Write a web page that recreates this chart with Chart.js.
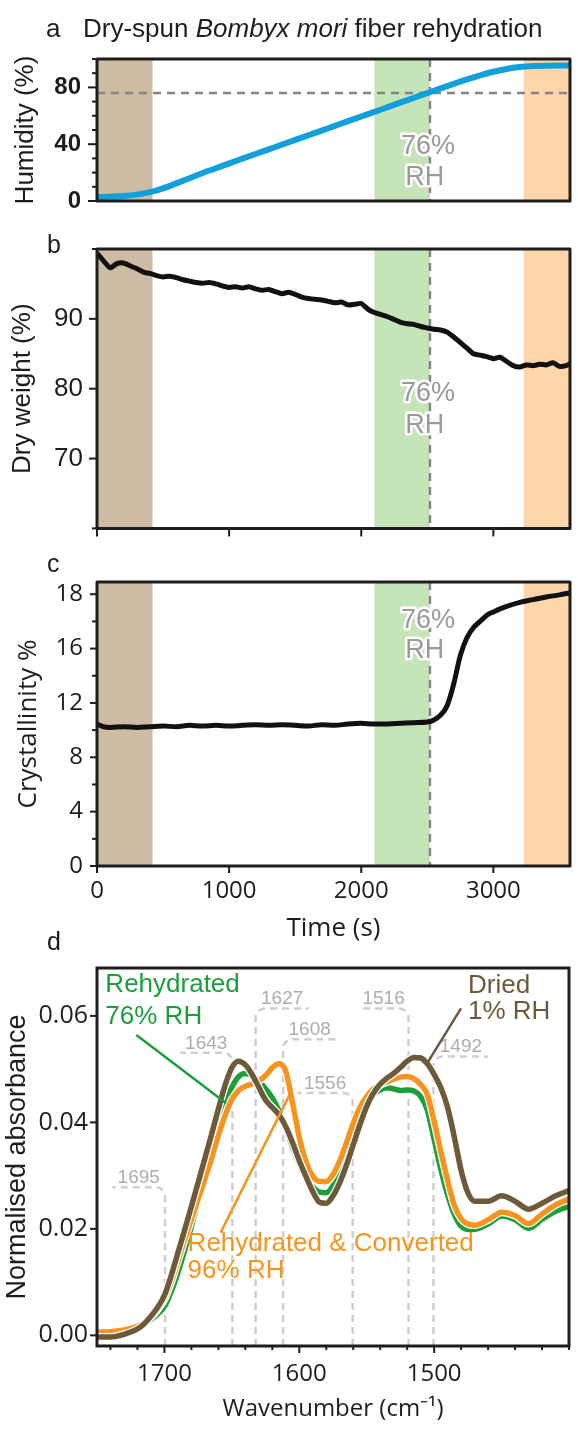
<!DOCTYPE html>
<html>
<head>
<meta charset="utf-8">
<script src="https://cdn.jsdelivr.net/npm/chart.js@4/dist/chart.umd.min.js"></script>
<style>
  html, body { margin: 0; padding: 0; background: #fff; }
  #wrap { position: relative; width: 578px; height: 1434px; }
  #wrap canvas { position: absolute; left: 0; }
</style>
</head>
<body>
<div id="wrap">
  <canvas id="panelA" width="578" height="230" style="top:0px"></canvas>
  <canvas id="panelB" width="578" height="345" style="top:205px"></canvas>
  <canvas id="panelC" width="578" height="395" style="top:550px"></canvas>
  <canvas id="panelD" width="578" height="519" style="top:915px"></canvas>
</div>
<script>
"use strict";

// ---- panels a-c : time series (s) ----
const humTime = [0, 100, 200, 300, 400, 500, 600, 700, 800, 900, 1000, 1100, 1200, 1300, 1400, 1500, 1600, 1700, 1800, 1900, 2000, 2100, 2200, 2300, 2400, 2500, 2600, 2700, 2800, 2900, 3000, 3100, 3200, 3300, 3400, 3500, 3580];
const humValues = [2.8, 3.0, 3.5, 4.5, 6.2, 8.9, 12.4, 16.0, 19.7, 23.1, 26.5, 29.8, 33.1, 36.4, 39.7, 43.0, 46.3, 49.6, 52.9, 56.2, 59.5, 62.8, 66.1, 69.4, 72.7, 76.0, 79.3, 82.5, 85.6, 88.5, 91.0, 93.0, 94.3, 95.0, 95.3, 95.4, 95.4];

const weightTime = [0, 50, 100, 150, 200, 250, 300, 350, 400, 450, 500, 550, 600, 650, 700, 750, 800, 850, 900, 950, 1000, 1050, 1100, 1150, 1200, 1250, 1300, 1350, 1400, 1450, 1500, 1550, 1600, 1650, 1700, 1750, 1800, 1850, 1900, 1950, 2000, 2050, 2100, 2150, 2200, 2250, 2300, 2350, 2400, 2450, 2500, 2550, 2600, 2650, 2700, 2750, 2800, 2850, 2900, 2950, 3000, 3050, 3100, 3150, 3200, 3250, 3300, 3350, 3400, 3450, 3500, 3550, 3580];
const weightValues = [99.4, 98.3, 97.3, 97.9, 98.0, 97.6, 97.2, 96.7, 96.5, 96.2, 96.0, 96.1, 95.9, 95.6, 95.4, 95.2, 95.1, 95.2, 95.0, 94.7, 94.5, 94.6, 94.4, 94.6, 94.3, 94.1, 94.2, 93.9, 93.6, 93.8, 93.5, 93.1, 92.9, 92.8, 92.7, 92.5, 92.3, 92.4, 92.0, 92.1, 92.2, 91.4, 90.9, 90.6, 90.3, 89.9, 89.5, 89.3, 89.2, 88.9, 88.7, 88.5, 88.4, 88.1, 87.4, 86.6, 85.8, 85.0, 84.8, 84.6, 84.3, 84.5, 83.9, 83.3, 83.1, 83.4, 83.3, 83.5, 83.4, 83.7, 83.2, 83.3, 83.6];

const crystTime = [0, 50, 100, 200, 300, 400, 500, 600, 700, 800, 900, 1000, 1100, 1200, 1300, 1400, 1500, 1600, 1700, 1800, 1900, 2000, 2100, 2200, 2300, 2400, 2500, 2550, 2600, 2650, 2700, 2750, 2800, 2850, 2900, 2950, 3000, 3100, 3200, 3300, 3400, 3500, 3580];
// read against the evenly spaced ticks (top tick sits where 20 would be)
const crystValues = [10.45, 10.25, 10.2, 10.25, 10.2, 10.25, 10.3, 10.25, 10.35, 10.3, 10.35, 10.3, 10.35, 10.4, 10.35, 10.4, 10.35, 10.3, 10.4, 10.35, 10.45, 10.5, 10.45, 10.45, 10.5, 10.55, 10.6, 10.75, 11.1, 11.8, 13.4, 15.5, 16.8, 17.55, 18.0, 18.45, 18.7, 19.1, 19.4, 19.6, 19.8, 19.95, 20.1];

// shaded phases and the 76% RH mark
const phaseDry = [0, 420];
const phaseRehyd = [2100, 2520];
const phaseConv = [3230, 3580];
const rhMarkTime = 2520;
const rhMarkHumidity = 76;
const timeMax = 3580;

// tick labels
const timeTicks = [0, 1000, 2000, 3000];
const humTickLabels = [0, 40, 80];
const weightTickLabels = [70, 80, 90];
const crystTickValues = [0, 4, 8, 12, 16, 20];
const crystTickText = ["0", "4", "8", "12", "16", "18"];

// ---- panel d : spectra ----
const wavenumbers = [1750, 1740, 1730, 1720, 1715, 1710, 1705, 1700, 1695, 1690, 1685, 1680, 1675, 1670, 1665, 1660, 1655, 1650, 1645, 1640, 1635, 1630, 1625, 1620, 1615, 1610, 1605, 1600, 1595, 1590, 1585, 1580, 1575, 1570, 1565, 1560, 1555, 1550, 1545, 1540, 1535, 1530, 1525, 1520, 1515, 1510, 1505, 1500, 1495, 1490, 1485, 1480, 1475, 1470, 1460, 1450, 1440, 1430, 1420, 1410, 1400];
const driedAbs = [-0.0003, -0.0003, 0.0002, 0.0012, 0.0022, 0.0036, 0.0053, 0.0075, 0.0112, 0.0155, 0.0198, 0.0242, 0.0287, 0.0332, 0.0378, 0.0425, 0.047, 0.0503, 0.0515, 0.0508, 0.049, 0.0466, 0.0442, 0.0428, 0.0414, 0.0392, 0.0362, 0.0328, 0.0298, 0.027, 0.025, 0.0248, 0.0262, 0.0287, 0.032, 0.0358, 0.0396, 0.043, 0.0455, 0.0472, 0.0483, 0.0492, 0.0503, 0.0515, 0.0522, 0.0521, 0.051, 0.049, 0.0465, 0.0428, 0.0372, 0.031, 0.0268, 0.0252, 0.0252, 0.0262, 0.0252, 0.0237, 0.0248, 0.0262, 0.0272];
const rehydratedAbs = [0.0003, 0.0004, 0.0007, 0.0013, 0.002, 0.003, 0.004, 0.0054, 0.0082, 0.0118, 0.016, 0.0205, 0.0252, 0.03, 0.035, 0.0395, 0.0435, 0.0466, 0.0486, 0.0492, 0.0488, 0.0478, 0.0463, 0.0446, 0.0421, 0.0388, 0.0354, 0.0322, 0.0296, 0.0279, 0.0269, 0.0268, 0.0281, 0.0308, 0.0344, 0.0382, 0.0414, 0.0437, 0.0452, 0.0461, 0.0465, 0.0463, 0.046, 0.0461, 0.0459, 0.0449, 0.0423, 0.0368, 0.0312, 0.0264, 0.0227, 0.0205, 0.0199, 0.0199, 0.0209, 0.0224, 0.0217, 0.0201, 0.0218, 0.0233, 0.0242];
const convertedAbs = [0.0006, 0.0007, 0.001, 0.0017, 0.0024, 0.0034, 0.0049, 0.0068, 0.01, 0.014, 0.018, 0.0218, 0.0256, 0.0294, 0.0333, 0.0376, 0.0413, 0.0443, 0.046, 0.0468, 0.0472, 0.0478, 0.0488, 0.0503, 0.051, 0.0496, 0.0437, 0.0372, 0.0326, 0.0299, 0.0289, 0.0289, 0.0302, 0.0328, 0.0362, 0.0398, 0.0428, 0.0449, 0.0463, 0.0471, 0.0476, 0.0481, 0.0485, 0.0486, 0.0482, 0.0471, 0.0452, 0.0402, 0.0345, 0.0291, 0.0244, 0.0219, 0.0209, 0.0207, 0.0217, 0.0231, 0.0225, 0.021, 0.0228, 0.0245, 0.0256];
const wnTickLabels = [1500, 1600, 1700];
const absTickLabels = [0, 0.02, 0.04, 0.06];

// band markers: label, drop line position, bracket height, far end of bracket
const peakLabels = ["1695", "1643", "1627", "1608", "1556", "1516", "1492"];
const peakDropAt = [1699.5, 1649.6, 1632.4, 1612, 1560.4, 1519, 1500.5];
const peakBracketHeight = [0.0278, 0.0531, 0.0614, 0.0556, 0.0455, 0.0614, 0.0524];
const peakBracketEnd = [1738.6, 1688.4, 1593, 1572.6, 1601.3, 1556, 1459.8];

const SANS = "'Liberation Sans', Arial, sans-serif";
const OPEN = "'Open Sans', 'Liberation Sans', sans-serif";
const INK = "#1e1c1c";
const BROWN = "#6c5a3a";
const GREEN = "#1b9f3b";
const ORANGE = "#f7941d";
const BLUE = "#11a0db";
const PLOT_LEFT = 97;

Chart.defaults.font.family = SANS;
Chart.defaults.color = INK;

function seg(ctx, x0, y0, x1, y1) {
  ctx.beginPath();
  ctx.moveTo(x0, y0);
  ctx.lineTo(x1, y1);
  ctx.stroke();
}

const decor = {
  id: "decor",
  beforeDatasetsDraw(chart, args, o) {
    const { ctx, chartArea: a } = chart;
    const x = chart.scales.x, y = chart.scales.y;
    ctx.save();
    ctx.beginPath();
    ctx.rect(a.left, a.top, a.width, a.height);
    ctx.clip();
    (o.bands || []).forEach((b) => {
      const x0 = x.getPixelForValue(b.range[0]), x1 = x.getPixelForValue(b.range[1]);
      ctx.fillStyle = b.color;
      ctx.fillRect(Math.min(x0, x1), a.top, Math.abs(x1 - x0), a.height);
    });
    ctx.strokeStyle = "#858585";
    ctx.lineWidth = 2.5;
    ctx.setLineDash([8, 6]);
    (o.vlines || []).forEach((v) => {
      const px = x.getPixelForValue(v);
      seg(ctx, px, a.top, px, a.bottom);
    });
    (o.hlines || []).forEach((v) => {
      const py = y.getPixelForValue(v);
      seg(ctx, a.left, py, a.right, py);
    });
    if (o.peaks) {
      ctx.strokeStyle = "#cfcfcf";
      ctx.setLineDash([7, 5]);
      ctx.font = "19px " + SANS;
      ctx.fillStyle = "#adadad";
      ctx.textAlign = "center";
      ctx.textBaseline = "alphabetic";
      peakLabels.forEach((lab, i) => {
        const xv = x.getPixelForValue(peakDropAt[i]);
        const yl = y.getPixelForValue(peakBracketHeight[i]);
        const xe = x.getPixelForValue(peakBracketEnd[i]);
        ctx.beginPath();
        ctx.moveTo(xv, a.bottom);
        ctx.arcTo(xv, yl, xe, yl, 9);
        ctx.lineTo(xe, yl);
        ctx.stroke();
        ctx.fillText(lab, (xv + xe) / 2, yl - 4);
      });
    }
    ctx.restore();
  },
  afterDatasetsDraw(chart, args, o) {
    const { ctx, chartArea: a } = chart;
    const x = chart.scales.x, y = chart.scales.y;
    ctx.save();
    ctx.setLineDash([]);
    (o.leaders || []).forEach((l) => {
      ctx.strokeStyle = l.color;
      ctx.lineWidth = 2.5;
      seg(ctx, x.getPixelForValue(l.from[0]), y.getPixelForValue(l.from[1]),
        x.getPixelForValue(l.to[0]), y.getPixelForValue(l.to[1]));
    });
    (o.notes || []).forEach((n) => {
      ctx.font = n.font;
      ctx.textAlign = n.align || "center";
      ctx.textBaseline = "middle";
      const px = x.getPixelForValue(n.at[0]), py = y.getPixelForValue(n.at[1]);
      if (n.halo) {
        ctx.strokeStyle = "#fff";
        ctx.lineWidth = 5;
        ctx.lineJoin = "round";
        ctx.strokeText(n.text, px, py);
      }
      ctx.fillStyle = n.color;
      ctx.fillText(n.text, px, py);
    });
    // frame
    ctx.strokeStyle = INK;
    ctx.lineWidth = 3;
    ctx.strokeRect(a.left, a.top, a.width, a.height);
    // tick marks, minor ones shorter
    ctx.lineWidth = 2;
    y.ticks.forEach((t) => {
      const py = y.getPixelForValue(t.value);
      const len = t.label === "" ? 5 : o.yTick;
      seg(ctx, a.left - len, py, a.left, py);
    });
    if (o.xTick) {
      x.ticks.forEach((t) => {
        const px = x.getPixelForValue(t.value);
        const len = t.label === "" && o.xMinor ? 4 : o.xTick;
        seg(ctx, px, a.bottom, px, a.bottom + len);
      });
    }
    ctx.restore();
  },
  afterDraw(chart, args, o) {
    const ctx = chart.ctx;
    ctx.save();
    ctx.fillStyle = INK;
    ctx.textAlign = "left";
    ctx.textBaseline = "alphabetic";
    (o.heading || []).forEach((h) => {
      let px = h.x;
      h.runs.forEach((r) => {
        ctx.font = (r.italic ? "italic " : "") + h.size + "px " + SANS;
        ctx.fillText(r.text, px, h.y);
        px += ctx.measureText(r.text).width;
      });
    });
    ctx.restore();
  }
};

function yAxis(cfg) {
  return {
    min: cfg.min,
    max: cfg.max,
    afterFit: (s) => { s.width = PLOT_LEFT; },
    border: { display: false },
    grid: { display: true, drawOnChartArea: false, drawTicks: true, tickLength: cfg.tickLen, tickColor: "rgba(0,0,0,0)" },
    ticks: { stepSize: cfg.step, autoSkip: false, includeBounds: false, padding: cfg.tickPad, color: INK, font: cfg.tickFont, callback: cfg.label },
    title: { display: true, text: cfg.title, color: INK, font: cfg.titleFont, padding: { top: cfg.titlePad, bottom: 0 } }
  };
}

function timeAxis(height, showLabels) {
  return {
    type: "linear", min: 0, max: timeMax,
    afterBuildTicks: (s) => { s.ticks = timeTicks.map((v) => ({ value: v })); },
    afterFit: (s) => { s.height = height; },
    border: { display: false },
    grid: { drawOnChartArea: false, tickLength: 7, tickColor: "rgba(0,0,0,0)" },
    ticks: { display: showLabels, autoSkip: false, padding: 4, color: INK, font: { family: OPEN, size: 24 }, callback: (v) => String(v) }
  };
}

function timeSeries(times, values) {
  return times.map((t, i) => ({ x: t, y: values[i] }));
}

function baseOptions(padding) {
  return {
    responsive: false,
    animation: false,
    events: [],
    layout: { padding: padding },
    plugins: { legend: { display: false }, tooltip: { enabled: false } }
  };
}

function rhNotes(yTop, yBottom) {
  return [
    { text: "76%", at: [rhMarkTime - 15, yTop], font: "27px " + SANS, color: "#999", halo: true },
    { text: "RH", at: [rhMarkTime - 40, yBottom], font: "27px " + SANS, color: "#999", halo: true }
  ];
}

const timeBands = [
  { range: phaseDry, color: "#cdbba3" },
  { range: phaseRehyd, color: "#c5e4b8" },
  { range: phaseConv, color: "#fed6aa" }
];

// a: humidity
const optA = baseOptions({ top: 59, right: 8, bottom: 29, left: 0 });
optA.plugins.decor = {
  bands: timeBands, vlines: [rhMarkTime], hlines: [rhMarkHumidity], yTick: 9,
  notes: rhNotes(38.2, 16.5),
  heading: [
    { x: 46, y: 37, size: 26, runs: [{ text: "a" }] },
    { x: 83, y: 37, size: 26, runs: [{ text: "Dry-spun " }, { text: "Bombyx mori", italic: true }, { text: " fiber rehydration" }] }
  ]
};
optA.scales = {
  x: { type: "linear", min: 0, max: timeMax, display: false },
  y: yAxis({ min: 0, max: 100, step: 10, tickLen: 9, tickPad: 7,
    tickFont: { family: SANS, size: 24, weight: "bold" },
    label: (v) => humTickLabels.includes(v) ? String(v) : "",
    title: "Humidity (%)", titleFont: { family: SANS, size: 26 }, titlePad: 10 })
};
new Chart(document.getElementById("panelA"), {
  type: "line",
  data: { datasets: [{ data: timeSeries(humTime, humValues), borderColor: BLUE, borderWidth: 6, pointRadius: 0, cubicInterpolationMode: "monotone" }] },
  options: optA,
  plugins: [decor]
});

// b: dry weight
const optB = baseOptions({ top: 44, right: 8, bottom: 0, left: 0 });
optB.plugins.decor = {
  bands: timeBands, vlines: [rhMarkTime], yTick: 8, xTick: 8,
  notes: rhNotes(79.3, 74.7),
  heading: [{ x: 47, y: 48, size: 25, runs: [{ text: "b" }] }]
};
optB.scales = {
  x: timeAxis(16, false),
  y: yAxis({ min: 60, max: 100, step: 10, tickLen: 8, tickPad: 6,
    tickFont: { family: SANS, size: 26 },
    label: (v) => weightTickLabels.includes(v) ? String(v) : "",
    title: "Dry weight (%)", titleFont: { family: SANS, size: 26 }, titlePad: 7 })
};
new Chart(document.getElementById("panelB"), {
  type: "line",
  data: { datasets: [{ data: timeSeries(weightTime, weightValues), borderColor: "#111", borderWidth: 5, pointRadius: 0, tension: 0.2, borderJoinStyle: "round" }] },
  options: optB,
  plugins: [decor]
});

// c: crystallinity
const optC = baseOptions({ top: 32, right: 8, bottom: 0, left: 0 });
optC.plugins.decor = {
  bands: timeBands, vlines: [rhMarkTime], yTick: 7, xTick: 7,
  notes: rhNotes(18.05, 15.85),
  heading: [{ x: 47, y: 22, size: 25, runs: [{ text: "c" }] }]
};
optC.scales = {
  x: Object.assign(timeAxis(79, true), {
    title: { display: true, text: "Time (s)", color: INK, font: { family: OPEN, size: 26 }, padding: { top: 0, bottom: 1 } }
  }),
  y: yAxis({ min: 0, max: 20.9, step: 2, tickLen: 7, tickPad: 7,
    tickFont: { family: OPEN, size: 24 },
    label: (v) => { const i = crystTickValues.indexOf(v); return i < 0 ? "" : crystTickText[i]; },
    title: "Crystallinity %", titleFont: { family: OPEN, size: 26 }, titlePad: 13 })
};
new Chart(document.getElementById("panelC"), {
  type: "line",
  data: { datasets: [{ data: timeSeries(crystTime, crystValues), borderColor: "#111", borderWidth: 5, pointRadius: 0, cubicInterpolationMode: "monotone" }] },
  options: optC,
  plugins: [decor]
});

// d: spectra
const optD = baseOptions({ top: 53, right: 9, bottom: 0, left: 0 });
optD.plugins.decor = {
  peaks: true, yTick: 7, xTick: 7, xMinor: true,
  leaders: [
    { color: GREEN, from: [1720.8, 0.0564], to: [1654.2, 0.0436] },
    { color: BROWN, from: [1480.1, 0.0614], to: [1505.9, 0.0508] },
    { color: ORANGE, from: [1658.3, 0.0193], to: [1606.6, 0.0455] }
  ],
  notes: [
    { text: "Rehydrated", at: [1743.8, 0.0658], font: "26px " + SANS, color: GREEN, align: "left" },
    { text: "76% RH", at: [1743.8, 0.0599], font: "26px " + SANS, color: GREEN, align: "left" },
    { text: "Dried", at: [1474.9, 0.0656], font: "26px " + SANS, color: BROWN, align: "left" },
    { text: "1% RH", at: [1474.9, 0.0607], font: "26px " + SANS, color: BROWN, align: "left" },
    { text: "Rehydrated & Converted", at: [1682.8, 0.0171], font: "26px " + SANS, color: ORANGE, align: "left" },
    { text: "96% RH", at: [1682.8, 0.0121], font: "26px " + SANS, color: ORANGE, align: "left" }
  ],
  heading: [{ x: 47, y: 35, size: 25, runs: [{ text: "d" }] }]
};
optD.scales = {
  x: {
    type: "linear", min: 1400, max: 1750, reverse: true,
    afterFit: (s) => { s.height = 88; },
    border: { display: false },
    grid: { drawOnChartArea: false, tickLength: 7, tickColor: "rgba(0,0,0,0)" },
    ticks: { stepSize: 20, includeBounds: false, autoSkip: false, maxRotation: 0, padding: 7, color: INK, font: { family: OPEN, size: 24 },
      callback: (v) => wnTickLabels.includes(v) ? String(v) : "" },
    title: { display: true, text: "Wavenumber (cm\u207B\u00B9)", color: INK, font: { family: OPEN, size: 24 }, padding: { top: 0, bottom: 10 } }
  },
  y: yAxis({ min: -0.002, max: 0.069, step: 0.02, tickLen: 7, tickPad: 2,
    tickFont: { family: OPEN, size: 25 },
    label: (v) => absTickLabels.some((t) => Math.abs(t - v) < 1e-9) ? v.toFixed(2) : "",
    title: "Normalised absorbance", titleFont: { family: SANS, size: 27 }, titlePad: 1 })
};

function spectrum(values, color, width) {
  return {
    data: wavenumbers.map((w, i) => ({ x: w, y: values[i] })),
    borderColor: color, borderWidth: width, pointRadius: 0, cubicInterpolationMode: "monotone", borderJoinStyle: "round"
  };
}
// first dataset is drawn on top; white copies give each curve a thin outline
new Chart(document.getElementById("panelD"), {
  type: "line",
  data: {
    datasets: [
      spectrum(driedAbs, BROWN, 5.5),
      spectrum(driedAbs, "#fff", 8),
      spectrum(convertedAbs, ORANGE, 5.5),
      spectrum(convertedAbs, "#fff", 8),
      spectrum(rehydratedAbs, GREEN, 5.5),
      spectrum(rehydratedAbs, "#fff", 8)
    ]
  },
  options: optD,
  plugins: [decor]
});
</script>
</body>
</html>
